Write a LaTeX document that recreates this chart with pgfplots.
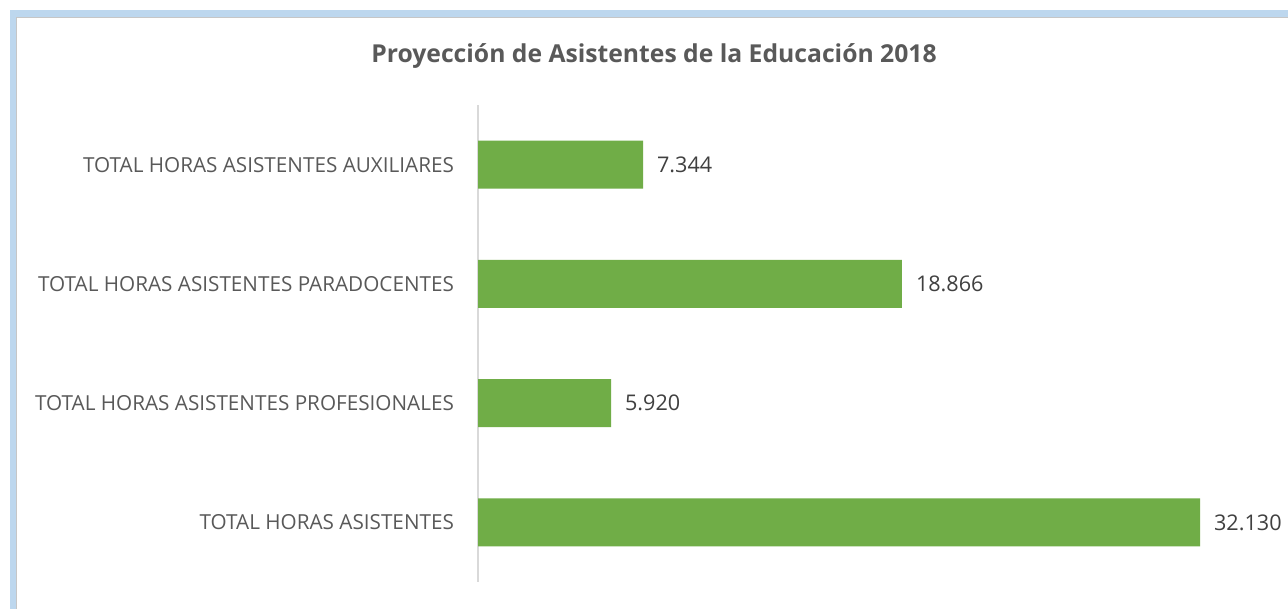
\documentclass[border=0pt]{standalone}
\usepackage{fontspec}
\setmainfont{Open Sans}
\usepackage{pgfplots}
\pgfplotsset{compat=1.18}
\definecolor{bargreen}{HTML}{70AD47}
\definecolor{txtgray}{HTML}{595959}
\definecolor{numgray}{HTML}{404040}
\definecolor{glow}{HTML}{BDD7EE}

\begin{document}
\begin{tikzpicture}
% page is 1288 x 609 px at 0.5pt per px
\useasboundingbox (0pt,0pt) rectangle (644pt,304.5pt);
\fill[white] (0pt,0pt) rectangle (644pt,304.5pt);
\draw[glow, line width=3.5pt] (6.5pt,-20pt) -- (6.5pt,297.5pt) -- (700pt,297.5pt);
\draw[gray!45, line width=0.6pt] (8.3pt,-20pt) -- (8.3pt,295.7pt) -- (700pt,295.7pt);

\node[font=\bfseries\fontsize{12.35}{14}\selectfont, text=txtgray] at (327pt,276.5pt)
  {Proyección de Asistentes de la Educación 2018};

\begin{axis}[
    at={(239pt,13.5pt)}, anchor=south west,
    scale only axis,
    width=393.25pt, height=238.5pt,
    xbar, bar width=24pt,
    xmin=0, xmax=35000,
    ymin=-0.5, ymax=3.5,
    axis x line=none,
    axis y line=left,
    y axis line style={-, draw=gray!30, line width=0.6pt},
    ytick={0,1,2,3},
    yticklabels={TOTAL HORAS ASISTENTES, TOTAL HORAS ASISTENTES PROFESIONALES, TOTAL HORAS ASISTENTES PARADOCENTES, TOTAL HORAS ASISTENTES AUXILIARES},
    major tick length=0pt,
    yticklabel style={font=\fontsize{10.35}{12}\selectfont, text=txtgray, anchor=east, xshift=-8.5pt},
    nodes near coords={\pgfmathprintnumber[fixed, precision=0, 1000 sep={.}, assume math mode=true]{\pgfplotspointmeta}},
    nodes near coords style={font=\fontsize{10.8}{12}\selectfont, text=numgray, anchor=west, xshift=3.5pt},
    clip=false,
]
\addplot[fill=bargreen, draw=none] coordinates {
    (32130,0) (5920,1) (18866,2) (7344,3)
};
\end{axis}
\end{tikzpicture}
\end{document}
